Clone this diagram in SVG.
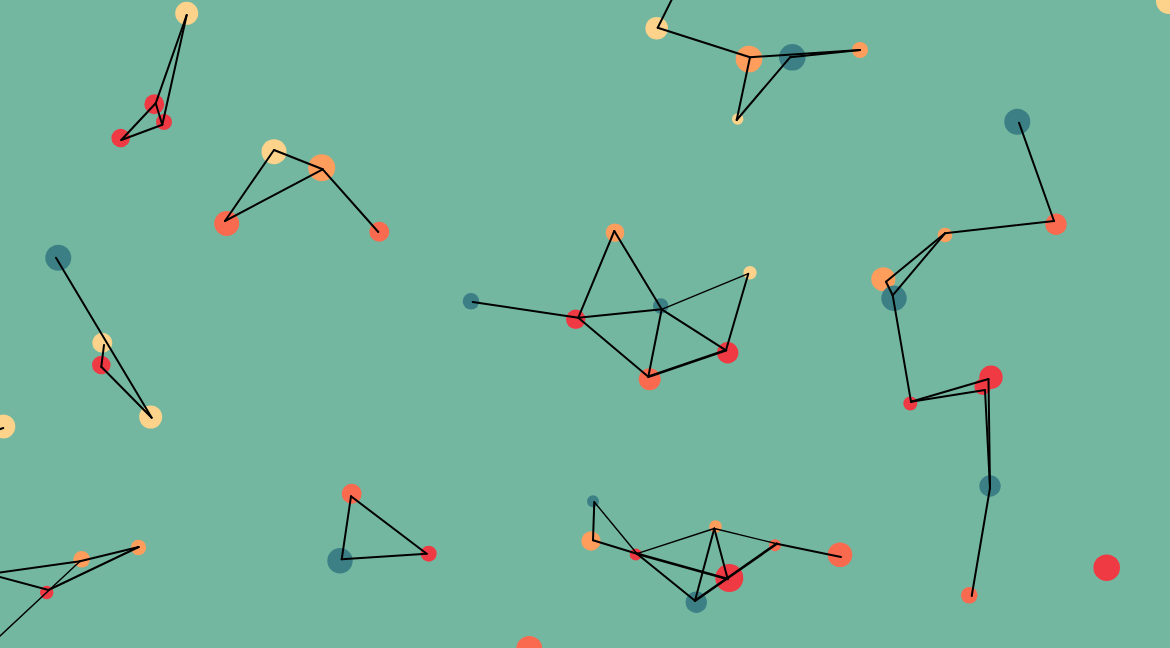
<svg xmlns="http://www.w3.org/2000/svg" width="1170" height="648" viewBox="0 0 1170 648">
<style>
.cr{fill:#fdd38b}.or{fill:#fe9d5c}.co{fill:#fa6a4f}.rd{fill:#ef3a44}.tl{fill:#3c8086}
#links line{stroke:#000;stroke-width:2;stroke-linecap:round}
#links line.thin{stroke-width:1.4}
#links line.thick{stroke-width:2.6}
</style>
<rect width="1170" height="648" fill="#74b7a0"/>
<g id="nodes">
<g id="a1"><circle class="cr" cx="186.7" cy="13.3" r="11.5"/></g>
<g id="a2"><circle class="rd" cx="154.3" cy="104.3" r="10"/></g>
<g id="a3"><circle class="rd" cx="164" cy="122" r="8"/></g>
<g id="a4"><circle class="rd" cx="120.7" cy="138" r="9.3"/></g>
<g id="b1"><circle class="cr" cx="274" cy="151.7" r="12.5"/></g>
<g id="b2"><circle class="or" cx="321.7" cy="167.7" r="13.5"/></g>
<g id="b3"><circle class="co" cx="226.7" cy="223.5" r="12.5"/></g>
<g id="b4"><circle class="co" cx="379.3" cy="231.7" r="10"/></g>
<g id="c1"><circle class="tl" cx="58.3" cy="257.7" r="13"/></g>
<g id="c2"><circle class="cr" cx="102.3" cy="342.7" r="10"/></g>
<g id="c3"><circle class="rd" cx="101.3" cy="365" r="9.3"/></g>
<g id="c4"><circle class="cr" cx="150.7" cy="417" r="11.5"/></g>
<g id="c5"><circle class="cr" cx="3.3" cy="426.5" r="12"/></g>
<g id="d1"><circle class="cr" cx="656.7" cy="28.3" r="11.3"/></g>
<g id="d2"><circle class="or" cx="749" cy="59" r="13.3"/></g>
<g id="d3"><circle class="cr" cx="737.7" cy="119" r="5.7"/></g>
<g id="d4"><circle class="tl" cx="792.3" cy="57.3" r="13.3"/></g>
<g id="d5"><circle class="or" cx="860" cy="50" r="8"/></g>
<g id="e1"><circle class="cr" cx="1169" cy="1" r="13"/></g>
<g id="f1"><circle class="tl" cx="1017.3" cy="121.7" r="13"/></g>
<g id="f2"><circle class="co" cx="1056" cy="224.3" r="10.7"/></g>
<g id="f3"><circle class="or" cx="945" cy="235" r="7.3"/></g>
<g id="f4"><circle class="or" cx="883.3" cy="279.3" r="12"/></g>
<g id="f5"><circle class="tl" cx="894" cy="298.3" r="12.7"/></g>
<g id="f6"><circle class="rd" cx="910.3" cy="403.5" r="7"/></g>
<g id="f7"><circle class="rd" cx="982.7" cy="386.7" r="8.3"/></g>
<g id="f8"><circle class="rd" cx="991" cy="377.3" r="11.7"/></g>
<g id="f9"><circle class="tl" cx="990" cy="486" r="10.7"/></g>
<g id="f10"><circle class="co" cx="969.3" cy="595.3" r="8.3"/></g>
<g id="g1"><circle class="tl" cx="471" cy="301.3" r="8.3"/></g>
<g id="g2"><circle class="rd" cx="575.7" cy="319.3" r="9.7"/></g>
<g id="g3"><circle class="or" cx="615" cy="232.7" r="9.3"/></g>
<g id="g4"><circle class="tl" cx="660.7" cy="306" r="7.7"/></g>
<g id="g5"><circle class="cr" cx="750" cy="272.7" r="6.7"/></g>
<g id="g6"><circle class="rd" cx="727.7" cy="352.7" r="10.7"/></g>
<g id="g7"><circle class="co" cx="649.7" cy="379.3" r="11"/></g>
<g id="h1"><circle class="or" cx="81.7" cy="559.3" r="8.3"/></g>
<g id="h2"><circle class="or" cx="138.5" cy="547.5" r="7.7"/></g>
<g id="h3"><circle class="rd" cx="46.7" cy="592.5" r="6.7"/></g>
<g id="i1"><circle class="co" cx="351.7" cy="493.7" r="10"/></g>
<g id="i2"><circle class="tl" cx="340" cy="560.7" r="12.7"/></g>
<g id="i3"><circle class="rd" cx="428.7" cy="553.7" r="8"/></g>
<g id="j1"><circle class="tl" cx="593" cy="501.3" r="6"/></g>
<g id="j2"><circle class="or" cx="591" cy="541" r="9.7"/></g>
<g id="j3"><circle class="rd" cx="635.7" cy="554.5" r="6"/></g>
<g id="j4"><circle class="or" cx="715.5" cy="526.5" r="6.3"/></g>
<g id="j5"><circle class="rd" cx="729.3" cy="578" r="14"/></g>
<g id="j6"><circle class="tl" cx="696.3" cy="602.3" r="10.7"/></g>
<g id="j7"><circle class="co" cx="775" cy="545.3" r="6"/></g>
<g id="j8"><circle class="co" cx="840" cy="554.7" r="12.3"/></g>
<g id="k1"><circle class="co" cx="529.3" cy="649" r="13"/></g>
<g id="k2"><circle class="rd" cx="1106.7" cy="567.7" r="13.3"/></g>
</g>
<g id="links">
<line x1="186.7" y1="15" x2="155.7" y2="103.3"/>
<line x1="186.7" y1="15" x2="162.3" y2="124.7"/>
<line x1="155.7" y1="103.3" x2="121.3" y2="140"/>
<line x1="155.7" y1="103.3" x2="162.3" y2="124.7"/>
<line x1="121.3" y1="140" x2="162.3" y2="124.7"/>
<line x1="274" y1="150" x2="322.7" y2="169.3"/>
<line x1="274" y1="150" x2="225" y2="221"/>
<line x1="322.7" y1="169.3" x2="225" y2="221"/>
<line x1="322.7" y1="169.3" x2="378.3" y2="232"/>
<line x1="56" y1="257.7" x2="151.7" y2="417.7"/>
<line x1="104" y1="345" x2="101.3" y2="366.7"/>
<line x1="101.3" y1="366.7" x2="151.7" y2="417.7"/>
<line x1="3.3" y1="428" x2="-20" y2="436"/>
<line x1="679" y1="-15" x2="657.7" y2="27.7"/>
<line x1="657.7" y1="27.7" x2="750" y2="57.3"/>
<line x1="750" y1="57.3" x2="736.7" y2="120"/>
<line x1="736.7" y1="120" x2="790" y2="57.3"/>
<line x1="750" y1="57.3" x2="860" y2="50"/>
<line x1="790" y1="57.3" x2="860" y2="50"/>
<line x1="1019" y1="122.7" x2="1054" y2="221"/>
<line x1="1054" y1="221" x2="945" y2="233.3"/>
<line x1="945" y1="233.3" x2="886" y2="281.7"/>
<line x1="945" y1="233.3" x2="892.7" y2="295.3"/>
<line x1="886" y1="281.7" x2="892.7" y2="295.3"/>
<line x1="892.7" y1="295.3" x2="911" y2="401.7"/>
<line x1="911" y1="401.7" x2="988.5" y2="379"/>
<line x1="911" y1="401.7" x2="985" y2="390"/>
<line x1="988.5" y1="379" x2="990" y2="488"/>
<line x1="985" y1="390" x2="990" y2="488"/>
<line x1="990" y1="488" x2="971.7" y2="596"/>
<line x1="472.7" y1="302" x2="578.3" y2="317.7"/>
<line x1="578.3" y1="317.7" x2="614.3" y2="231"/>
<line x1="614.3" y1="231" x2="661.7" y2="309.3"/>
<line x1="578.3" y1="317.7" x2="661.7" y2="309.3"/>
<line class="thin" x1="661.7" y1="309.3" x2="748.3" y2="273.7"/>
<line x1="748.3" y1="273.7" x2="726" y2="350.3"/>
<line x1="661.7" y1="309.3" x2="726" y2="350.3"/>
<line x1="661.7" y1="309.3" x2="648.3" y2="376.7"/>
<line x1="578.3" y1="317.7" x2="648.3" y2="376.7"/>
<line class="thick" x1="648.3" y1="376.7" x2="726" y2="350.3"/>
<line x1="-11" y1="574" x2="80" y2="561.3"/>
<line x1="80" y1="561.3" x2="138.7" y2="547"/>
<line x1="-11" y1="574" x2="48.5" y2="590"/>
<line x1="48.5" y1="590" x2="138.7" y2="547"/>
<line class="thin" x1="80" y1="561.3" x2="-15" y2="650"/>
<line x1="351" y1="496.3" x2="341.7" y2="559.3"/>
<line x1="341.7" y1="559.3" x2="426.7" y2="553.7"/>
<line x1="351" y1="496.3" x2="426.7" y2="553.7"/>
<line x1="594.3" y1="502" x2="593" y2="540.3"/>
<line class="thin" x1="594.3" y1="502" x2="637" y2="553.7"/>
<line x1="637" y1="553.7" x2="695" y2="600.7"/>
<line x1="593" y1="540.3" x2="637" y2="553.7"/>
<line class="thick" x1="637" y1="553.7" x2="727.7" y2="579"/>
<line class="thin" x1="637" y1="553.7" x2="714.3" y2="528.5"/>
<line x1="714.3" y1="528.5" x2="695" y2="600.7"/>
<line x1="714.3" y1="528.5" x2="727.7" y2="579"/>
<line class="thin" x1="714.3" y1="528.5" x2="776.7" y2="543.7"/>
<line class="thick" x1="776.7" y1="543.7" x2="695" y2="600.7"/>
<line x1="776.7" y1="543.7" x2="841" y2="557"/>
</g>
</svg>
